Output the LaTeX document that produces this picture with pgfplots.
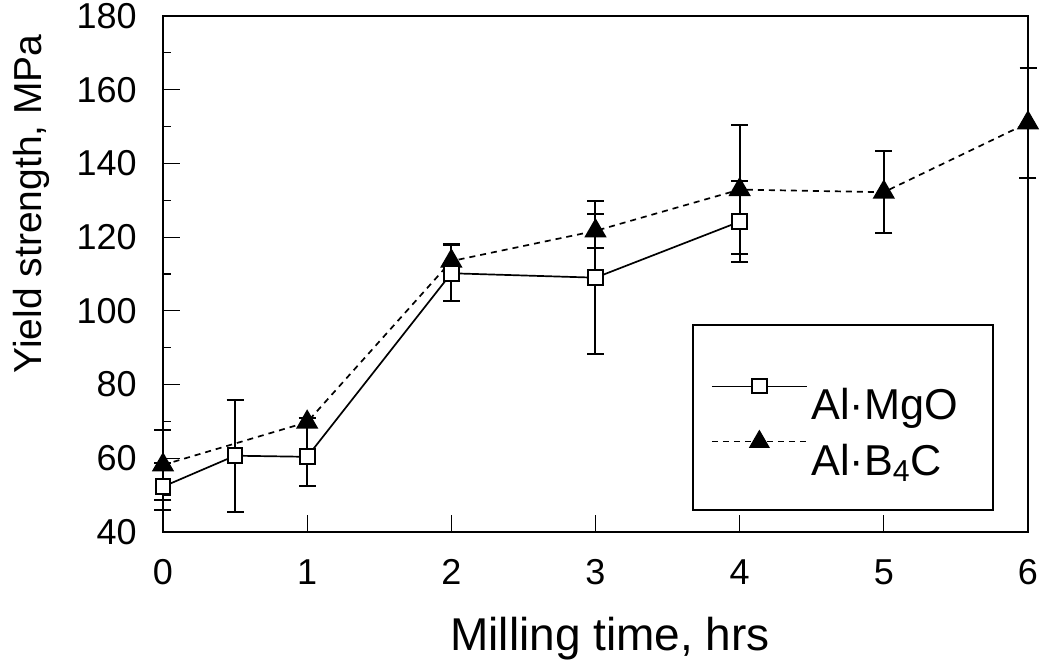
\documentclass[border=0pt]{standalone}
\usepackage{fontspec}
\setmainfont{Liberation Sans}
\usepackage{pgfplots}
\pgfplotsset{compat=1.18}
\usepackage{pgfplotstable}

\pgfplotstableread{
x y e
0 52.3 6.3
0.5 60.7 15.2
1 60.4 8.0
2 110.2 7.6
3 109.0 20.8
4 124.2 10.9
}\mgo
\pgfplotstableread{
x y e
0 58.2 9.5
1 69.8 1.2
2 113.5 4.6
3 121.7 4.7
4 132.9 17.5
5 132.2 11.2
6 151.0 15.0
}\bfc

\begin{document}
\begin{tikzpicture}
\begin{axis}[
  scale only axis, width=432.5pt, height=258pt,
  xmin=0, xmax=6, ymin=40, ymax=180,
  xtick={0,1,2,3,4,5,6}, ytick={40,60,...,180}, minor y tick num=1,
  tick align=inside, xtick pos=bottom, ytick pos=left,
  major tick length=8.5pt, minor tick length=4pt,
  axis line style={line width=0.6pt},
  every tick/.style={line width=0.6pt, black},
  tick label style={font=\fontsize{18}{21}\selectfont},
  /pgf/number format/assume math mode=true,
  xticklabel style={anchor=north, inner sep=0pt, yshift=-13.5pt},
  yticklabel style={anchor=east, inner sep=0pt, xshift=-13pt},
  xlabel={Milling time, hrs}, ylabel={Yield strength, MPa},
  xlabel style={at={(axis description cs:0.517,-0.2306)}, anchor=base, font=\fontsize{23}{27}\selectfont},
  ylabel style={at={(axis description cs:-0.141,0.636)}, anchor=base, font=\fontsize{19.5}{23}\selectfont},
  clip=false,
  legend style={draw=none, fill=none, at={(axis description cs:0.6335,0.1967)}, anchor=west,
    inner sep=0pt, row sep=2pt, font=\fontsize{21.6}{25}\selectfont,
    /tikz/every even column/.append style={column sep=11pt}},
  legend cell align=left,
  reverse legend,
  legend image code/.code={\draw[mark repeat=2,mark phase=2,#1,line width=0.5pt,yshift=9.7pt] plot coordinates {(0pt,0pt)(23.75pt,0pt)(47.5pt,0pt)};},
  error bars/error bar style={line width=1pt, solid},
  error bars/error mark options={rotate=90, mark size=4.25pt, line width=1pt, solid},
]
\addplot[black, line width=0.85pt, dash pattern=on 3pt off 2.5pt, mark=triangle*, mark size=5.6pt,
  mark options={solid, fill=black},
  error bars/.cd, y dir=both, y explicit]
  table[x=x, y=y, y error=e] {\bfc};
\addlegendentry{Al·B\textsubscript{4}C}
\addplot[black, line width=0.85pt, mark=square*, mark size=3.7pt,
  mark options={solid, fill=white, line width=1pt},
  error bars/.cd, y dir=both, y explicit]
  table[x=x, y=y, y error=e] {\mgo};
\addlegendentry{Al·MgO}
\draw[line width=1.4pt] (axis description cs:0.6127,0.0426) rectangle (axis description cs:0.9595,0.401);
\end{axis}
\pgfresetboundingbox
\path[use as bounding box] (-81.5pt,-63.5pt) rectangle (440.5pt,266pt);
\end{tikzpicture}
\end{document}
